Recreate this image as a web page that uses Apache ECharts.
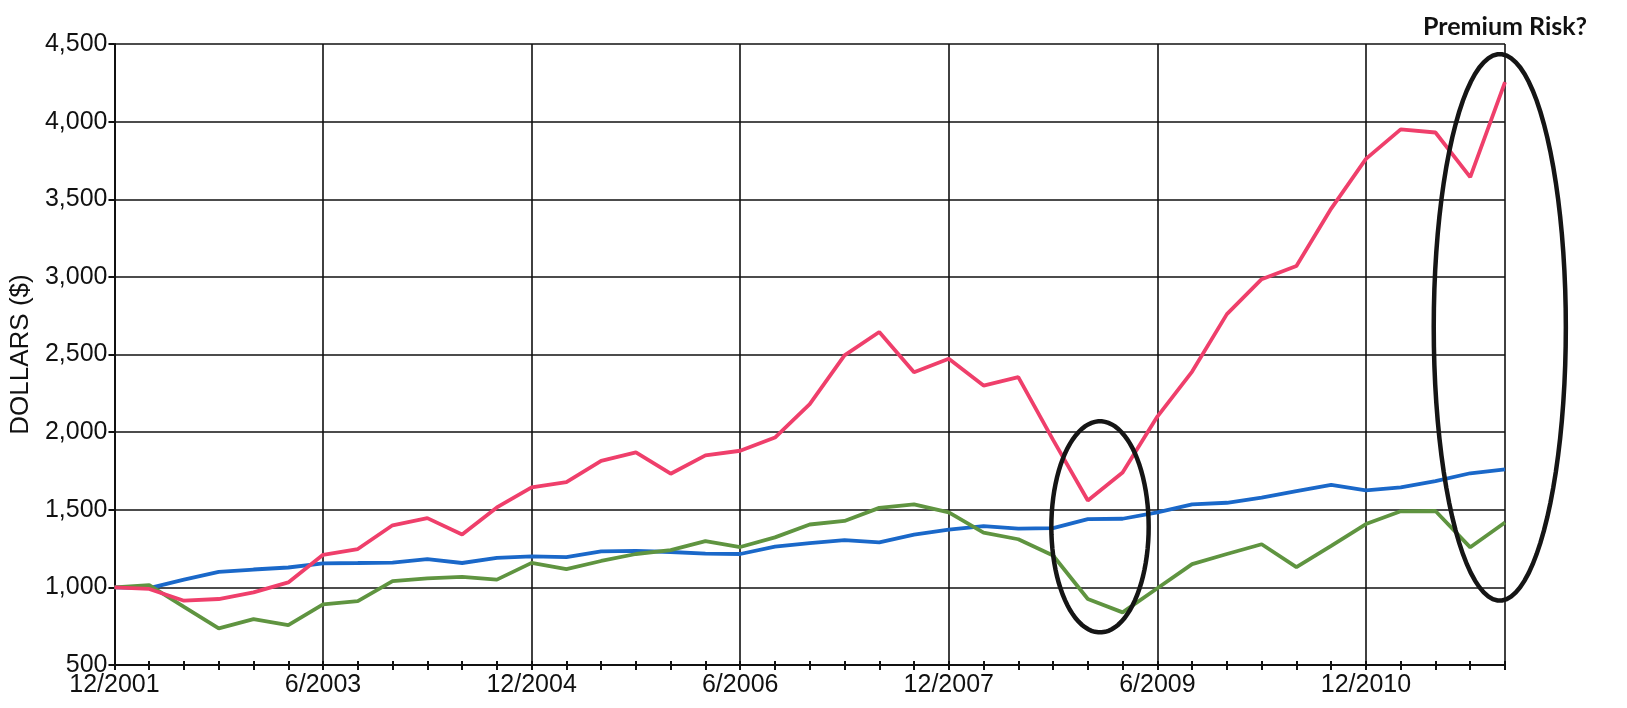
<!DOCTYPE html>
<html style="height: 100%">
<head>
    <title>Dollars</title>
    <meta charset="utf-8">
</head>
<body style="height: 100%; margin: 0; background: #fff">
<div id="container" style="height: 708px; width: 1627px"></div>
<script src="https://cdn.jsdelivr.net/npm/echarts@6/dist/echarts.min.js"></script>
<script type="text/javascript">
    // quarterly dates, 12/2001 .. 12/2011
    var quarters = [
        '12/2001', '3/2002', '6/2002', '9/2002', '12/2002', '3/2003', '6/2003', '9/2003', '12/2003',
        '3/2004', '6/2004', '9/2004', '12/2004', '3/2005', '6/2005', '9/2005', '12/2005',
        '3/2006', '6/2006', '9/2006', '12/2006', '3/2007', '6/2007', '9/2007', '12/2007',
        '3/2008', '6/2008', '9/2008', '12/2008', '3/2009', '6/2009', '9/2009', '12/2009',
        '3/2010', '6/2010', '9/2010', '12/2010', '3/2011', '6/2011', '9/2011', '12/2011'
    ];
    var redLine = [
        1000, 990, 914, 925, 968, 1032, 1210, 1247, 1400, 1446, 1340, 1515, 1644, 1678,
        1815, 1870, 1732, 1850, 1880, 1965, 2180, 2494, 2645, 2386, 2472, 2300, 2354,
        1950, 1560, 1740, 2100, 2390, 2760, 2985, 3070, 3440, 3760, 3950, 3930, 3642, 4255
    ];
    var blueLine = [
        1000, 995, 1050, 1100, 1115, 1128, 1155, 1157, 1160, 1182, 1157, 1190, 1200, 1195,
        1232, 1235, 1228, 1218, 1215, 1262, 1285, 1305, 1290, 1340, 1372, 1395, 1378,
        1382, 1440, 1442, 1483, 1535, 1545, 1578, 1620, 1660, 1625, 1644, 1685, 1735, 1760
    ];
    var greenLine = [
        1000, 1015, 875, 736, 796, 757, 890, 912, 1040, 1058, 1068, 1050, 1158, 1118,
        1170, 1215, 1240, 1298, 1260, 1322, 1405, 1428, 1512, 1535, 1483, 1352, 1310,
        1205, 925, 839, 994, 1150, 1215, 1278, 1130, 1268, 1408, 1490, 1492, 1258, 1418
    ];
    var yTicks = [500, 4500, 500]; // min, max, step

    // hand-drawn circles: [center quarter index, center value, half width (quarters), half height (value)]
    var circles = [
        [28.35, 1390, 1.4, 680],
        [39.85, 2675, 1.9, 1760]
    ];

    var dom = document.getElementById("container");
    var myChart = echarts.init(dom);
    var font = '"Liberation Sans", Arial, sans-serif';

    myChart.setOption({
        animation: false,
        grid: {left: 113, right: 122, top: 44, bottom: 43},
        xAxis: [
            {
                type: 'category',
                data: quarters,
                boundaryGap: false,
                axisLine: {lineStyle: {color: '#111', width: 2}},
                axisTick: {interval: 0, length: 5, lineStyle: {color: '#111', width: 2}},
                axisLabel: {interval: 5, color: '#111', fontSize: 25, fontFamily: font, margin: 8},
                splitLine: {
                    show: true,
                    interval: function (i) { return i % 6 === 0 || i === quarters.length - 1; },
                    lineStyle: {color: '#111', width: 1.6}
                }
            },
            {
                // inner half of the quarter ticks
                type: 'category',
                data: quarters,
                boundaryGap: false,
                position: 'bottom',
                axisLine: {show: false},
                axisTick: {interval: 0, inside: true, length: 4, lineStyle: {color: '#111', width: 2}},
                axisLabel: {show: false},
                splitLine: {show: false}
            }
        ],
        yAxis: {
            type: 'value',
            min: yTicks[0],
            max: yTicks[1],
            interval: yTicks[2],
            name: 'DOLLARS ($)',
            nameLocation: 'middle',
            nameGap: 76,
            nameTextStyle: {color: '#111', fontSize: 26, fontFamily: font},
            axisLine: {show: true, lineStyle: {color: '#111', width: 2}},
            axisTick: {show: true, length: 6, lineStyle: {color: '#111', width: 2}},
            axisLabel: {
                color: '#111', fontSize: 25, fontFamily: font, margin: 7,
                formatter: function (v) { return String(v).replace(/\B(?=(\d{3})+(?!\d))/g, ','); }
            },
            splitLine: {lineStyle: {color: '#111', width: 1.6}}
        },
        series: [
            {name: 'blue', type: 'line', data: blueLine, symbol: 'none', lineStyle: {color: '#1a68c9', width: 3.8}},
            {name: 'green', type: 'line', data: greenLine, symbol: 'none', lineStyle: {color: '#5f9440', width: 3.8}},
            {name: 'red', type: 'line', data: redLine, symbol: 'none', lineStyle: {color: '#ef3f6b', width: 3.8}}
        ]
    });

    // place the annotation ellipses in data space
    var x0 = myChart.convertToPixel({xAxisIndex: 0}, 0);
    var x1 = myChart.convertToPixel({xAxisIndex: 0}, quarters.length - 1);
    var perQ = (x1 - x0) / (quarters.length - 1);
    var perV = myChart.convertToPixel({yAxisIndex: 0}, 500) - myChart.convertToPixel({yAxisIndex: 0}, 1000);
    var shapes = circles.map(function (c) {
        var cx = x0 + c[0] * perQ;
        var cy = myChart.convertToPixel({yAxisIndex: 0}, c[1]);
        var rx = c[2] * perQ, ry = c[3] / 500 * perV;
        var pts = [];
        for (var k = 0; k < 90; k++) {
            var a = k / 90 * Math.PI * 2;
            pts.push([cx + rx * Math.cos(a), cy + ry * Math.sin(a)]);
        }
        return {
            type: 'polygon',
            shape: {points: pts},
            style: {fill: null, stroke: '#151515', lineWidth: 4.5},
            z: 100
        };
    });
    shapes.push({
        type: 'text',
        left: 1423,
        top: 14,
        style: {text: 'Premium Risk?', font: 'bold 25px Lato, "Open Sans", sans-serif', fill: '#111'},
        z: 100
    });
    myChart.setOption({graphic: shapes});
</script>
</body>
</html>
